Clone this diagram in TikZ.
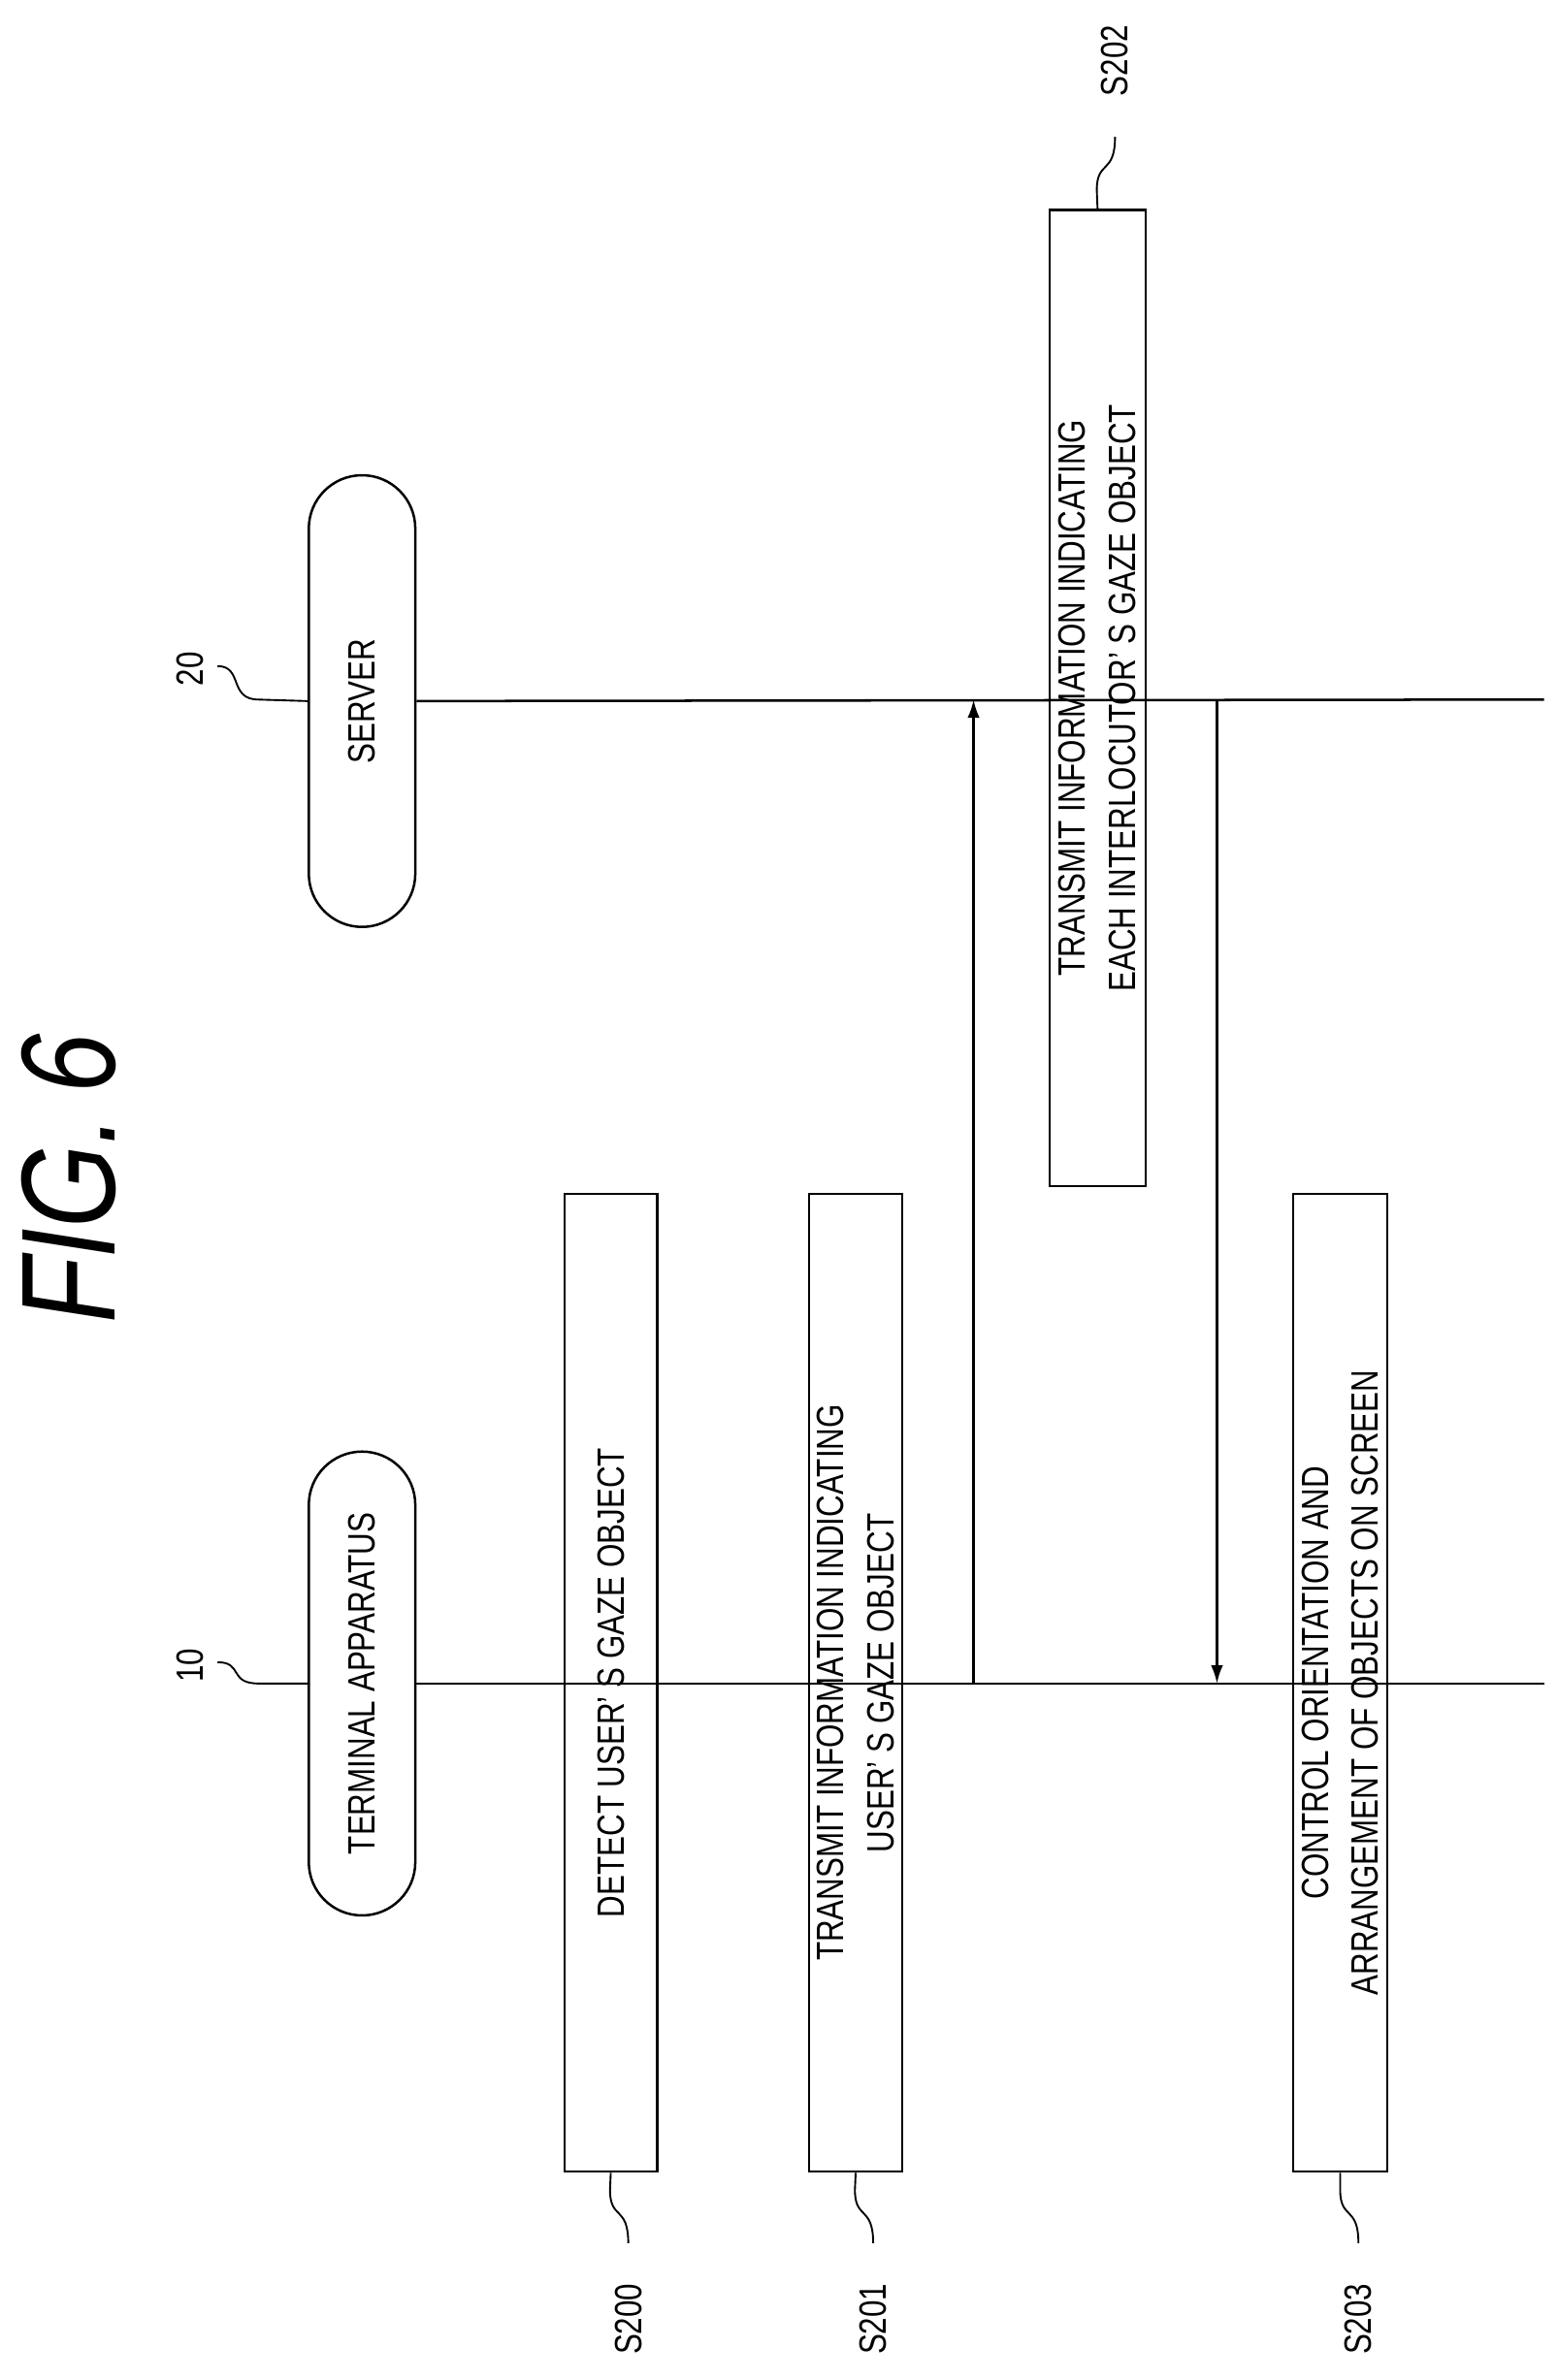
\documentclass[tikz,border=0pt]{standalone}
\usepackage{fontspec}
\setmainfont{Liberation Sans}[FakeStretch=0.8]
\usetikzlibrary{arrows.meta}
\begin{document}
\begin{tikzpicture}[x=1pt,y=-1pt,line width=1.6pt,
    lbl/.style={font=\fontsize{25}{33}\selectfont,align=center,rotate=90},
    stepbox/.style={draw,rectangle,minimum width=61pt,inner sep=0pt},
    pill/.style={draw,rounded corners=35pt,minimum width=70pt,inner sep=0pt},
    squig/.style={line width=1.2pt}]
    \useasboundingbox (0,0) rectangle (1024,1565);
    \def\yT{1107} % terminal lifeline
    \def\yS{460}  % server lifeline

    \node[rotate=90,font=\fontsize{88}{90}\selectfont\itshape] (title) at (45,775) {FIG.\,6};

    % lifelines
    \node[pill,minimum height=305pt] (term) at (238,1107) {};
    \node[lbl] at (term) {TERMINAL APPARATUS};
    \node[pill,minimum height=297pt] (serv) at (238,461) {};
    \node[lbl] at (serv) {SERVER};
    \draw (term.east) -- (1015,\yT);
    \draw (serv.east) -- (1015,\yS);
    \node[lbl] (n10) at (125,1095) {10};
    \node[lbl] (n20) at (125,440) {20};
    \draw[squig] (143,1093) .. controls (160,1093) and (150,1107) .. (170,1107) -- (term.west);
    \draw[squig] (143,438) .. controls (160,438) and (150,460) .. (170,460) -- (serv.west);

    % steps
    \node[stepbox,minimum height=643pt] (s200) at (401.5,1106.5) {};
    \node[lbl] at (s200) {DETECT USER’ S GAZE OBJECT};
    \node[stepbox,minimum height=643pt] (s201) at (562.5,1106.5) {};
    \node[lbl] at (s201) {TRANSMIT INFORMATION INDICATING\\USER’ S GAZE OBJECT};
    \node[stepbox,minimum height=642pt,minimum width=63pt] (s202) at (721.5,459) {};
    \node[lbl] at (s202) {TRANSMIT INFORMATION INDICATING\\EACH INTERLOCUTOR’ S GAZE OBJECT};
    \node[stepbox,minimum height=643pt,minimum width=62pt] (s203) at (881,1106.5) {};
    \node[lbl] at (s203) {CONTROL ORIENTATION AND\\ARRANGEMENT OF OBJECTS ON SCREEN};

    % step labels
    \foreach \b/\x/\t in {s200/401/S200, s201/562/S201, s203/881/S203} {
        \draw[squig] (\b.south) -- (\x,1440) .. controls (\x,1460) and (\x+12,1450) .. (\x+12,1475);
        \node[lbl] at (\x+12,1525) {\t};
    }
    \draw[squig] (s202.north) -- (721,125) .. controls (721,105) and (733,115) .. (733,90);
    \node[lbl] at (733,40) {S202};

    % messages
    \draw[-{Latex[length=12pt,width=8pt]}] (640,\yT) -- (640,\yS);
    \draw[-{Latex[length=12pt,width=8pt]}] (800,\yS) -- (800,\yT);
\end{tikzpicture}
\end{document}
